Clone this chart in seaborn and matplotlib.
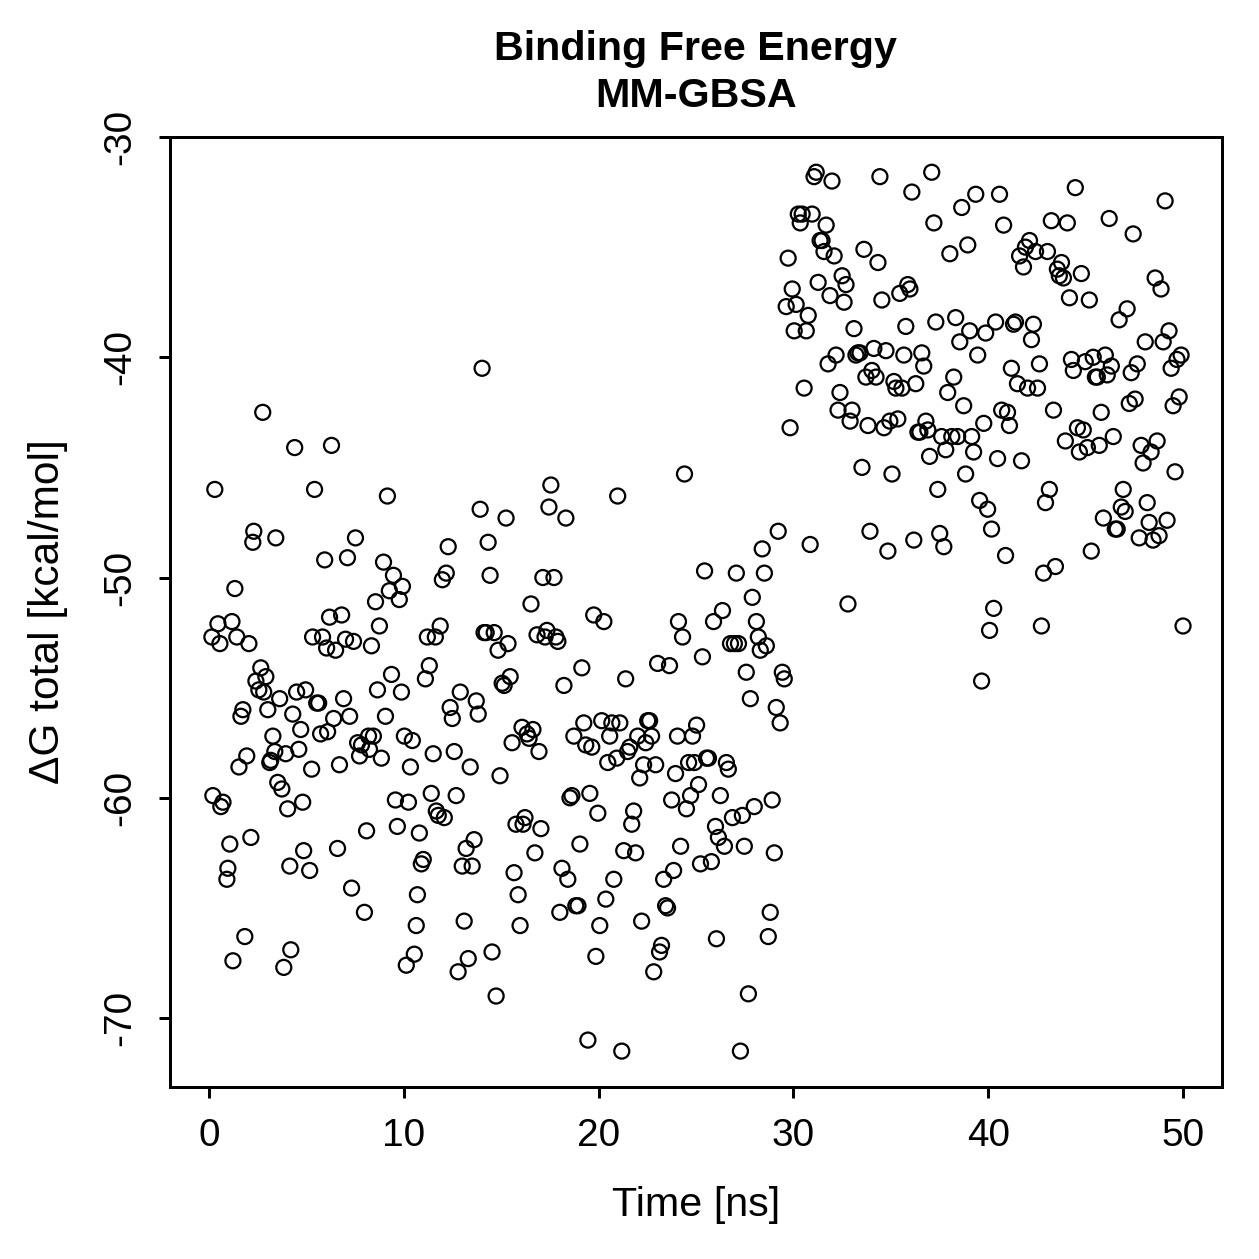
import pandas as pd
import seaborn as sns
import matplotlib.pyplot as plt

# MM-GBSA binding free energy per frame
time_ns = [
    0.15, 0.30, 0.46, 0.56, 0.20, 0.61, 0.72, 0.92, 0.97, 1.07,
    1.18, 1.23, 1.33, 1.43, 1.54, 1.64, 1.74, 1.84, 1.94, 2.05,
    2.15, 2.25, 2.30, 2.41, 2.56, 2.66, 2.76, 2.81, 2.92, 3.02,
    3.12, 3.17, 3.28, 3.38, 3.43, 3.53, 3.63, 3.74, 3.84, 3.94,
    4.04, 4.15, 4.20, 4.30, 4.40, 4.50, 4.61, 4.71, 4.81, 4.86,
    4.96, 5.17, 5.27, 5.32, 5.42, 5.53, 5.63, 5.73, 5.83, 5.94,
    6.04, 6.09, 6.19, 6.29, 6.40, 6.50, 6.60, 6.70, 6.81, 6.91,
    7.01, 7.11, 7.22, 7.32, 7.42, 7.52, 7.63, 7.73, 7.83, 7.98,
    8.09, 8.19, 8.24, 8.34, 8.44, 8.55, 8.65, 8.75, 8.85, 8.96,
    9.06, 9.16, 9.26, 9.37, 9.47, 9.57, 9.67, 9.77, 9.88, 9.93,
    10.03, 10.13, 10.24, 10.34, 10.44, 10.54, 10.64, 10.70, 10.80, 10.90,
    11.00, 11.11, 11.21, 11.31, 11.41, 11.51, 11.62, 11.67, 11.77, 11.87,
    11.98, 12.08, 12.18, 12.28, 12.38, 12.49, 12.59, 12.69, 12.79, 12.90,
    13.00, 13.10, 13.20, 13.31, 13.41, 13.51, 13.61, 13.72, 13.82, 13.92,
    14.02, 14.12, 14.23, 14.33, 14.43, 14.53, 14.64, 14.74, 14.84, 14.94,
    15.05, 15.15, 15.25, 15.35, 15.46, 15.56, 15.66, 15.76, 15.87, 15.97,
    16.07, 16.12, 16.22, 16.33, 16.43, 16.53, 16.63, 16.73, 16.84, 16.94,
    17.04, 17.14, 17.25, 17.35, 17.45, 17.55, 17.71, 17.81, 17.91, 18.01,
    18.12, 18.22, 18.32, 18.42, 18.53, 18.63, 18.73, 18.83, 18.94, 19.04,
    19.14, 19.24, 19.34, 19.45, 19.55, 19.65, 19.75, 19.86, 19.96, 20.06,
    20.16, 20.27, 20.37, 20.47, 20.57, 20.68, 20.78, 20.93, 20.98, 21.09,
    21.19, 21.29, 21.39, 21.49, 21.60, 21.70, 21.80, 21.90, 22.01, 22.11,
    22.21, 22.31, 22.42, 22.52, 22.62, 22.72, 22.83, 22.93, 23.03, 23.13,
    23.23, 23.34, 23.44, 23.54, 23.64, 23.75, 23.85, 23.95, 24.05, 24.10,
    24.21, 24.31, 24.41, 24.51, 24.62, 24.72, 24.82, 24.92, 25.03, 25.13,
    25.23, 25.33, 25.44, 25.54, 25.64, 25.79, 25.90, 26.00, 26.05, 26.15,
    26.25, 26.36, 26.46, 26.56, 26.66, 26.77, 26.87, 26.97, 27.07, 27.18,
    27.28, 27.38, 27.48, 27.58, 27.69, 27.79, 27.89, 27.99, 28.10, 28.20,
    28.30, 28.40, 28.51, 28.61, 28.71, 28.81, 28.91, 29.02, 29.12, 29.22,
    29.32, 29.43, 29.53, 29.63, 29.73, 29.83, 29.94, 30.04, 30.14, 30.25,
    30.35, 30.45, 30.55, 30.66, 30.76, 30.86, 30.96, 31.06, 31.17, 31.27,
    31.37, 31.47, 31.57, 31.68, 31.78, 31.88, 31.98, 32.09, 32.19, 32.29,
    32.39, 32.50, 32.60, 32.70, 32.80, 32.91, 33.01, 33.11, 33.21, 33.31,
    33.42, 33.52, 33.62, 33.72, 33.83, 33.93, 34.03, 34.13, 34.24, 34.34,
    34.44, 34.54, 34.65, 34.75, 34.85, 34.95, 35.06, 35.16, 35.26, 35.36,
    35.46, 35.57, 35.67, 35.77, 35.87, 35.98, 36.08, 36.18, 36.28, 36.39,
    36.49, 36.59, 36.69, 36.80, 36.90, 36.99, 37.10, 37.21, 37.31, 37.41,
    37.51, 37.61, 37.72, 37.82, 37.92, 38.03, 38.13, 38.23, 38.33, 38.43,
    38.54, 38.64, 38.74, 38.84, 38.95, 39.05, 39.15, 39.25, 39.36, 39.46,
    39.56, 39.66, 39.77, 39.87, 39.97, 40.07, 40.17, 40.28, 40.38, 40.48,
    40.58, 40.69, 40.79, 40.89, 40.99, 41.09, 41.19, 41.30, 41.40, 41.50,
    41.61, 41.71, 41.81, 41.91, 42.02, 42.12, 42.22, 42.32, 42.43, 42.53,
    42.63, 42.73, 42.84, 42.94, 43.04, 43.14, 43.24, 43.35, 43.45, 43.55,
    43.65, 43.76, 43.86, 43.96, 44.06, 44.17, 44.27, 44.37, 44.47, 44.58,
    44.68, 44.78, 44.88, 44.98, 45.09, 45.19, 45.29, 45.39, 45.50, 45.60,
    45.70, 45.80, 45.91, 46.01, 46.11, 46.21, 46.32, 46.42, 46.52, 46.62,
    46.72, 46.83, 46.93, 47.03, 47.13, 47.24, 47.34, 47.44, 47.54, 47.65,
    47.75, 47.85, 47.95, 48.06, 48.16, 48.26, 48.36, 48.46, 48.57, 48.67,
    48.77, 48.87, 48.98, 49.08, 49.18, 49.28, 49.39, 49.49, 49.59, 49.69,
    49.80, 49.90, 50.00,
]

dg_total = [
    -52.7, -46.0, -52.1, -53.0, -59.9, -60.4, -60.2, -63.7, -63.2, -62.1,
    -52.0, -67.4, -50.5, -52.7, -58.6, -56.3, -56.0, -66.3, -58.1, -53.0,
    -61.8, -48.4, -47.9, -54.7, -55.1, -54.1, -42.5, -55.2, -54.5, -56.0,
    -58.4, -58.3, -57.2, -57.9, -48.2, -59.3, -55.5, -59.6, -67.7, -58.0,
    -60.5, -63.1, -66.9, -56.2, -44.1, -55.2, -57.8, -56.9, -60.2, -62.4,
    -55.1, -63.3, -58.7, -52.7, -46.0, -55.7, -55.7, -57.1, -52.7, -49.2,
    -53.2, -57.0, -51.8, -44.0, -56.4, -53.3, -62.3, -58.5, -51.7, -55.5,
    -52.8, -49.1, -56.3, -64.1, -52.9, -48.2, -57.5, -58.1, -57.6, -65.2,
    -61.5, -57.2, -57.8, -53.1, -57.2, -51.1, -55.1, -52.2, -58.2, -49.3,
    -56.3, -46.3, -50.6, -54.4, -49.9, -60.1, -61.3, -51.0, -55.2, -50.4,
    -57.2, -67.6, -60.2, -58.6, -57.4, -67.1, -65.8, -64.4, -61.6, -63.0,
    -62.8, -54.6, -52.7, -54.0, -59.8, -58.0, -52.7, -60.6, -60.8, -52.2,
    -50.1, -60.9, -49.8, -48.6, -55.9, -56.4, -57.9, -59.9, -67.9, -55.2,
    -63.1, -65.6, -62.3, -67.3, -58.6, -63.1, -61.9, -55.6, -56.2, -46.9,
    -40.5, -52.5, -52.5, -48.4, -49.9, -67.0, -52.5, -69.0, -53.3, -59.0,
    -54.8, -54.9, -47.3, -53.0, -54.5, -57.5, -63.4, -61.2, -64.4, -65.8,
    -56.8, -61.2, -60.9, -57.1, -57.3, -51.2, -56.9, -62.5, -52.6, -57.9,
    -61.4, -50.0, -52.7, -52.4, -46.8, -45.8, -50.0, -52.7, -52.9, -65.2,
    -63.2, -54.9, -47.3, -63.7, -60.0, -59.9, -57.2, -64.9, -64.9, -62.1,
    -54.1, -56.6, -57.6, -71.0, -59.8, -57.7, -51.7, -67.2, -60.7, -65.8,
    -56.5, -52.0, -64.6, -58.4, -57.2, -56.6, -63.7, -58.2, -46.3, -56.6,
    -71.5, -62.4, -54.6, -57.9, -57.7, -61.2, -60.6, -62.5, -57.2, -59.1,
    -65.6, -58.5, -57.5, -56.5, -56.5, -57.2, -67.9, -58.5, -53.9, -67.0,
    -66.7, -63.7, -64.9, -65.0, -54.0, -60.1, -63.3, -58.9, -57.2, -52.0,
    -62.2, -52.7, -45.3, -60.5, -58.4, -59.9, -57.2, -58.4, -56.7, -59.4,
    -63.0, -53.6, -49.7, -58.2, -58.2, -62.9, -52.0, -61.3, -66.4, -61.8,
    -59.9, -51.5, -62.2, -58.4, -58.7, -53.0, -60.9, -53.0, -49.8, -53.0,
    -71.5, -60.8, -62.2, -54.3, -68.9, -55.5, -50.9, -60.4, -52.0, -52.7,
    -53.3, -48.7, -49.8, -53.1, -66.3, -65.2, -60.1, -62.5, -55.9, -47.9,
    -56.6, -54.3, -54.6, -37.7, -35.5, -43.2, -36.9, -38.8, -37.6, -33.5,
    -33.9, -33.5, -41.4, -38.8, -38.1, -48.5, -33.5, -31.8, -31.6, -36.6,
    -34.7, -34.7, -35.2, -34.0, -40.3, -37.2, -32.0, -35.4, -39.9, -42.4,
    -41.6, -36.3, -37.5, -36.7, -51.2, -42.9, -42.4, -38.7, -39.9, -39.8,
    -39.8, -45.0, -35.1, -40.9, -43.1, -47.9, -40.6, -39.6, -40.9, -35.7,
    -31.8, -37.4, -43.2, -39.7, -48.8, -42.9, -45.3, -41.1, -41.4, -42.8,
    -37.1, -41.4, -39.9, -38.6, -36.7, -36.9, -32.5, -48.3, -41.2, -43.4,
    -43.4, -39.8, -40.4, -42.9, -43.3, -44.5, -31.6, -33.9, -38.4, -46.0,
    -48.0, -43.6, -48.6, -44.2, -41.6, -35.3, -43.6, -40.9, -38.2, -43.6,
    -39.3, -33.2, -42.2, -45.3, -34.9, -38.8, -43.6, -44.3, -32.6, -39.9,
    -46.5, -54.7, -43.0, -38.9, -46.9, -52.4, -47.8, -51.4, -38.4, -44.6,
    -32.6, -42.4, -34.0, -49.0, -42.5, -43.1, -40.5, -38.5, -38.4, -41.2,
    -35.4, -44.7, -35.9, -35.0, -41.4, -34.7, -39.2, -38.5, -35.2, -41.4,
    -40.3, -52.2, -49.8, -46.6, -35.2, -46.0, -33.8, -42.4, -49.5, -36.0,
    -36.3, -35.7, -36.4, -43.8, -33.9, -37.3, -40.1, -40.6, -32.3, -43.2,
    -44.3, -36.2, -43.3, -40.2, -44.1, -37.4, -48.8, -40.0, -40.9, -40.9,
    -44.0, -42.5, -47.3, -39.9, -40.8, -33.7, -40.4, -43.6, -47.8, -47.8,
    -38.3, -46.8, -46.0, -47.0, -37.8, -42.1, -40.7, -34.4, -41.9, -40.3,
    -48.2, -44.0, -44.8, -39.3, -46.6, -47.5, -44.3, -48.3, -36.4, -43.8,
    -48.1, -36.9, -39.3, -32.9, -47.4, -38.8, -40.5, -42.2, -45.2, -40.1,
    -41.8, -39.9, -52.2,
]

x_ticks = [0, 10, 20, 30, 40, 50]
y_ticks = [-70, -60, -50, -40, -30]

df = pd.DataFrame({"Time": time_ns, "dG": dg_total})

sns.set_style("ticks")
plt.rcParams["font.family"] = ["Liberation Sans", "DejaVu Sans"]
plt.rcParams["text.color"] = "black"
plt.rcParams["axes.labelcolor"] = "black"

W = 1259
fig = plt.figure(figsize=(W / 180, W / 180), dpi=180)
ax = fig.add_axes([170 / W, 1 - 1087 / W, (1222 - 170) / W, (1087 - 137) / W])

sns.scatterplot(data=df, x="Time", y="dG", ax=ax, marker="o", s=36,
                facecolor="none", edgecolor="black", linewidth=0.9)
for coll in ax.collections:
    coll.set_facecolor("none")

ax.set_xlim(-2, 52)
ax.set_ylim(-73.13, -30.0)
ax.set_xticks(x_ticks)
ax.set_yticks(y_ticks)
ax.set_yticklabels([str(v) for v in y_ticks], rotation=90, va="center")

for sp in ax.spines.values():
    sp.set_visible(True)
    sp.set_linewidth(1.2)
    sp.set_color("black")
ax.tick_params(direction="out", length=4.5, width=1.2, labelsize=15.5,
               pad=8, colors="black")

ax.set_xlabel("Time [ns]", fontsize=16.5, color="black")
ax.set_ylabel("\u0394G total [kcal/mol]", fontsize=17, color="black")
ax.xaxis.set_label_coords(0.5, -0.104)
ax.yaxis.set_label_coords(-0.097, 0.5)

ax.set_title("Binding Free Energy\nMM-GBSA", fontsize=16.5, fontweight="bold",
             pad=12, linespacing=1.3, color="black")

plt.savefig("out.png", dpi=180)
